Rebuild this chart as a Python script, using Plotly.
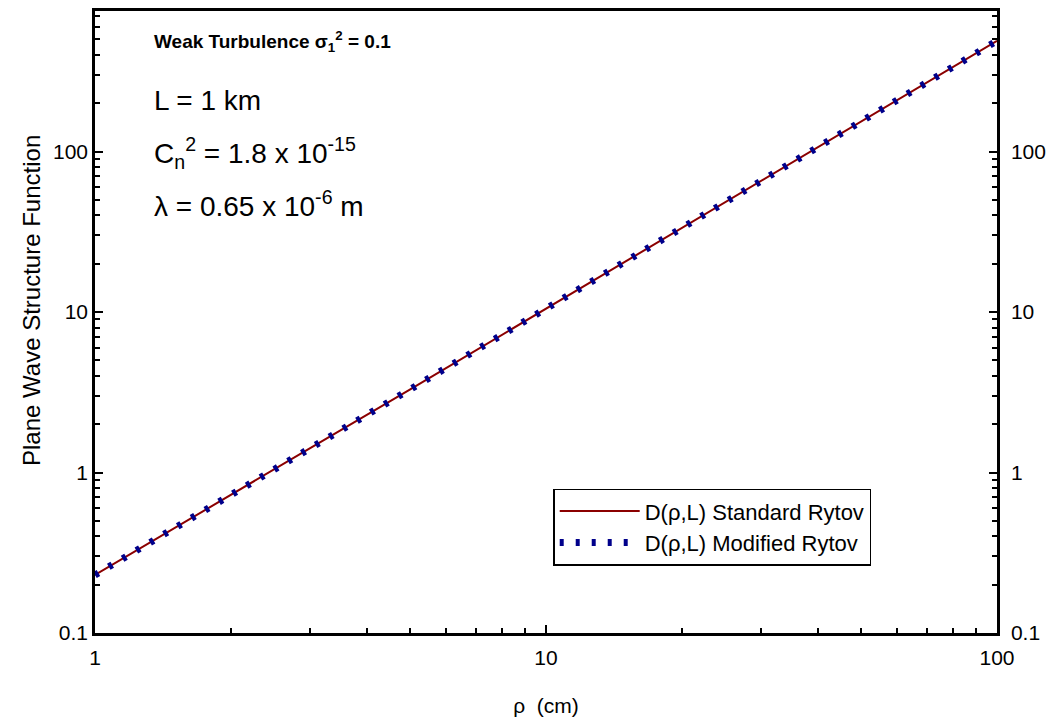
import plotly.graph_objects as go

# Separation distance rho (cm) and plane-wave phase structure function values
rho_cm = [1, 2, 3, 5, 10, 20, 30, 50, 100]
d_standard = [0.23, 0.72, 1.42, 3.3, 10.5, 33.4, 65.5, 153, 490]
d_modified = [0.23, 0.72, 1.42, 3.3, 10.5, 33.4, 65.5, 153, 490]

x_major = [1, 10, 100]
x_minor = [2, 3, 4, 5, 6, 7, 8, 9, 20, 30, 40, 50, 60, 70, 80, 90]
y_major = [0.1, 1, 10, 100]
y_major_text = ["0.1", "1", "10", "100"]
y_minor = [0.2, 0.3, 0.4, 0.5, 0.6, 0.7, 0.8, 0.9,
           2, 3, 4, 5, 6, 7, 8, 9,
           20, 30, 40, 50, 60, 70, 80, 90,
           200, 300, 400, 500, 600, 700]
y_range_log = [-1, 2.876]

FONT = "Liberation Sans, Arial, sans-serif"

fig = go.Figure()
fig.add_trace(go.Scatter(
    x=rho_cm, y=d_standard, mode="lines",
    name="D(\u03c1,L) Standard Rytov",
    line=dict(color="#8b0000", width=2),
))
fig.add_trace(go.Scatter(
    x=rho_cm, y=d_modified, mode="lines", yaxis="y2",
    name="D(\u03c1,L) Modified Rytov",
    line=dict(color="#00008b", width=7, dash="4px,12px"),
))

axis_common = dict(
    type="log", showline=True, linecolor="black", linewidth=2.5,
    showgrid=False, zeroline=False, ticks="inside", ticklen=8,
    tickwidth=1.5, tickcolor="black",
    tickfont=dict(family=FONT, size=21, color="black"),
)
minor_ticks = dict(tickmode="array", ticks="inside",
                   ticklen=5, tickwidth=1.5, tickcolor="black")

fig.update_layout(
    width=1050, height=723,
    margin=dict(l=95, r=53, t=11, b=90),
    paper_bgcolor="white", plot_bgcolor="white",
    font=dict(family=FONT, color="black"),
    xaxis=dict(
        **axis_common, range=[0, 2], mirror=True,
        tickmode="array", tickvals=x_major, ticktext=["1", "10", "100"],
        minor=dict(**minor_ticks, tickvals=x_minor),
        ticklabelstandoff=4,
        title=dict(text="\u03c1  (cm)", font=dict(family=FONT, size=21),
                   standoff=31),
        automargin=False,
    ),
    yaxis=dict(
        **axis_common, range=y_range_log,
        tickmode="array", tickvals=y_major, ticktext=y_major_text,
        minor=dict(**minor_ticks, tickvals=y_minor),
        automargin=False,
    ),
    yaxis2=dict(
        **axis_common, range=y_range_log, overlaying="y", side="right",
        tickmode="array", tickvals=y_major, ticktext=y_major_text,
        minor=dict(**minor_ticks, tickvals=y_minor),
        ticklabelstandoff=7,
        automargin=False,
    ),
    legend=dict(
        x=0.508, y=0.232, xanchor="left", yanchor="top",
        bgcolor="white", bordercolor="black", borderwidth=1.5,
        font=dict(family=FONT, size=22), itemwidth=80,
        tracegroupgap=0,
    ),
    showlegend=True,
)

# Vertical axis title, placed slightly above the plot-area centre
fig.add_annotation(
    text="Plane Wave Structure Function", textangle=-90,
    xref="paper", yref="paper",
    x=(31 - 95) / 902, y=(633 - 301) / 622,
    xanchor="center", yanchor="middle", showarrow=False,
    font=dict(family=FONT, size=24, color="black"),
)

notes = [
    ("<b>Weak Turbulence \u03c3<sub>1</sub><sup>2</sup> = 0.1</b>", 42, 19),
    ("L = 1 km", 100, 28),
    ("C<sub>n</sub><sup>2</sup> = 1.8 x 10<sup>-15</sup>", 153, 28),
    ("\u03bb = 0.65 x 10<sup>-6</sup> m", 204, 28),
]
for text, ypix, size in notes:
    fig.add_annotation(
        text=text, xref="paper", yref="paper",
        x=(152 - 95) / 902, y=(633 - ypix) / 622,
        xanchor="left", yanchor="middle", showarrow=False,
        font=dict(family=FONT, size=size, color="black"),
    )

fig.write_html("out.html")
